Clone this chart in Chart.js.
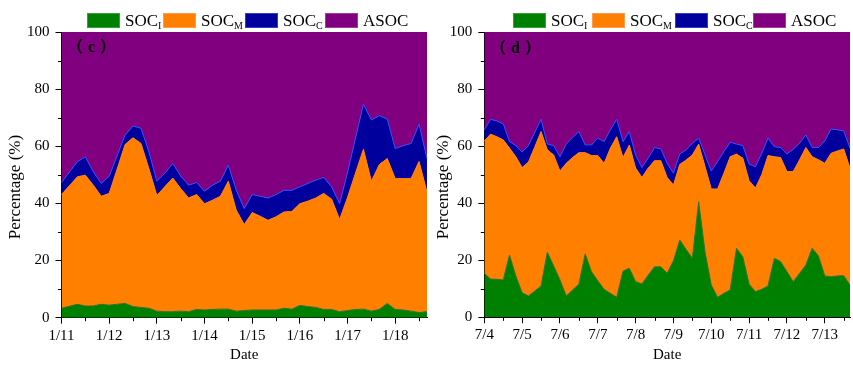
<!DOCTYPE html>
<html><head><meta charset="utf-8">
<script src="https://cdn.jsdelivr.net/npm/chart.js@4.4.1/dist/chart.umd.min.js"></script>
<style>
html,body{margin:0;padding:0;background:#fff;}
#wrap{position:relative;width:853px;height:365px;overflow:hidden;background:#fff;font-family:"Liberation Serif","Times New Roman",serif;color:#000;}
canvas{position:absolute;top:0;}
.box{position:absolute;top:12.5px;width:33px;height:15px;box-sizing:border-box;border:1px solid;}
.txt{position:absolute;top:12px;font-size:17px;line-height:17px;white-space:nowrap;}
.txt sub{font-size:10px;vertical-align:-3px;line-height:0;}
.tag{position:absolute;font-weight:bold;font-size:16px;line-height:16px;letter-spacing:5px;font-family:"Liberation Serif","Noto Sans CJK SC",serif;white-space:nowrap;}
.ytitle{position:absolute;width:200px;height:20px;line-height:20px;text-align:center;font-size:17px;white-space:nowrap;transform:rotate(-90deg);transform-origin:50% 50%;}
</style></head>
<body>
<div id="wrap">
  <canvas id="cC" width="430" height="365" style="left:0"></canvas>
  <canvas id="cD" width="423" height="365" style="left:430px"></canvas>
  <div class="tag" style="left:67px;top:39px">（c）</div>
  <div class="tag" style="left:490px;top:40px">（d）</div>
  <div class="ytitle" style="left:-85px;top:177px">Percentage (%)</div>
  <div class="ytitle" style="left:343px;top:177px">Percentage (%)</div>
  <div id="legC"></div>
  <div id="legD"></div>
</div>
<script>
// ---- data: panel (c), 4-hourly samples starting 1/11 ----
const dayTicksC = ['1/11','1/12','1/13','1/14','1/15','1/16','1/17','1/18'];
const socI_c = [3.3,4.0,4.7,4.1,4.1,4.7,4.4,4.7,5.0,3.9,3.6,3.3,2.3,2.1,2.1,2.3,2.1,2.9,2.7,2.9,3.0,3.0,2.3,2.5,2.7,2.7,2.7,2.7,3.3,3.0,4.3,3.9,3.6,2.9,2.9,2.1,2.5,2.9,3.0,2.3,2.9,5.0,2.9,2.7,2.3,1.8,2.1];
const socM_c = [39.8,42.2,44.6,45.8,42.3,37.8,39.1,47.3,55.6,59.1,57.4,48.9,40.5,43.7,46.8,42.9,39.8,40.2,37.2,38.2,39.5,44.8,35.3,30.1,34.1,32.8,31.4,32.6,33.7,34.2,35.6,36.9,38.3,40.6,38.6,32.3,39.6,47.7,56.0,45.5,50.7,50.7,45.8,46.0,46.4,52.9,41.9];
const socC_c = [4.2,4.8,5.3,6.4,4.7,4.5,6.0,4.7,3.3,4.1,5.3,5.9,5.0,4.7,5.1,4.4,4.5,4.2,4.4,5.3,5.3,5.6,7.0,5.6,6.3,7.0,7.8,7.8,7.6,7.4,5.9,6.2,6.2,5.6,4.3,5.5,8.7,12.2,15.7,21.4,17.1,13.8,10.5,11.5,12.3,13.0,11.7];
const asoc_c = [52.7,49.0,45.4,43.7,48.9,53.0,50.5,43.3,36.1,32.9,33.7,41.9,52.2,49.5,46.0,50.4,53.6,52.7,55.7,53.6,52.2,46.6,55.4,61.8,56.9,57.5,58.1,56.9,55.4,55.4,54.2,53.0,51.9,50.9,54.2,60.1,49.2,37.2,25.3,30.8,29.3,30.5,40.8,39.8,39.0,32.3,44.3];

// ---- data: panel (d), 4-hourly samples starting 7/4 ----
const dayTicksD = ['7/4','7/5','7/6','7/7','7/8','7/9','7/10','7/11','7/12','7/13'];
const socI_d = [15.4,13.4,13.3,13.1,21.8,14.5,8.6,7.5,9.2,11.0,22.8,18.0,13.1,7.5,9.6,11.6,22.2,16.0,12.8,9.8,8.4,7.0,16.2,17.2,12.5,11.7,14.8,17.7,17.7,15.4,19.8,27.1,23.8,20.7,40.5,23.0,11.3,7.0,8.4,9.6,24.2,21.2,11.6,9.0,9.8,11.0,20.7,19.5,16.0,12.5,15.4,18.3,24.2,21.5,14.5,14.2,14.5,14.6,11.3];
const socM_d = [46.4,50.8,50.0,49.1,37.5,41.8,43.9,46.9,50.5,54.1,35.9,38.9,38.2,46.5,46.4,46.1,35.5,40.7,43.9,44.2,50.9,56.3,39.8,43.2,39.8,37.3,37.5,37.2,37.2,33.6,26.6,26.5,31.3,36.2,20.2,29.9,33.7,38.0,42.1,46.7,33.0,34.6,36.3,36.3,40.2,45.7,35.6,36.5,35.1,38.6,39.8,41.2,32.1,33.7,39.5,43.3,43.8,44.4,41.0];
const socC_d = [3.9,5.2,5.5,5.6,2.3,3.9,5.4,5.8,5.1,4.3,2.0,3.3,5.0,6.7,7.0,7.4,2.7,3.7,6.1,7.6,6.4,6.1,5.6,4.7,4.6,3.5,3.5,4.6,4.1,5.0,4.1,3.6,3.6,4.1,2.1,4.1,6.3,9.6,7.6,5.1,3.5,4.4,5.8,7.5,7.5,6.1,3.5,3.5,6.1,7.8,5.8,4.4,3.2,4.3,7.8,8.5,7.4,6.3,7.0];
const asoc_d = [34.3,30.6,31.2,32.2,38.4,39.8,42.1,39.8,35.2,30.6,39.3,39.8,43.7,39.3,37.0,34.9,39.6,39.6,37.2,38.4,34.3,30.6,38.4,34.9,43.1,47.5,44.2,40.5,41.0,46.0,49.5,42.8,41.3,39.0,37.2,43.0,48.7,45.4,41.9,38.6,39.3,39.8,46.3,47.2,42.5,37.2,40.2,40.5,42.8,41.1,39.0,36.1,40.5,40.5,38.2,34.0,34.3,34.7,40.7];

const yTicks = [0,20,40,60,80,100];
const yMinor = [10,30,50,70,90];
const SAMPLES_PER_DAY = 6;

const seriesNames = ['SOC<sub>I</sub>','SOC<sub>M</sub>','SOC<sub>C</sub>','ASOC'];
const seriesLabels = ['SOCI','SOCM','SOCC','ASOC'];
const fills = ['#008000','#ff8000','#00009c','#800080'];
const lines = ['#2f6f2f','#ff7a10','#2a4cff','#800080'];
const boxBorders = ['#3aa03a','#ff9a50','#3a3ad0','#9a409a'];

const FONT = '"Liberation Serif","Times New Roman",serif';

const minorTicks = {
  id:'minorTicks',
  afterDraw(chart){
    const ctx = chart.ctx, xs = chart.scales.x, ys = chart.scales.y;
    ctx.save();
    ctx.strokeStyle = '#000'; ctx.lineWidth = 1;
    ctx.beginPath();
    const n = chart.data.labels.length;
    for (let i = SAMPLES_PER_DAY/2; i < n; i += SAMPLES_PER_DAY) {
      const px = Math.round(xs.getPixelForTick(i)) + 0.5;
      ctx.moveTo(px, ys.bottom); ctx.lineTo(px, ys.bottom + 3.5);
    }
    yMinor.forEach(v => {
      const py = Math.round(ys.getPixelForValue(v)) + 0.5;
      ctx.moveTo(xs.left, py); ctx.lineTo(xs.left - 3.5, py);
    });
    ctx.stroke();
    ctx.restore();
  }
};

function makeChart(id, dayTicks, series, cfg){
  const n = series[0].length;
  const labels = [];
  for (let i = 0; i < n; i++) labels.push(i % SAMPLES_PER_DAY === 0 ? (dayTicks[i / SAMPLES_PER_DAY] || '') : '');
  const datasets = series.map((d, k) => ({
    label: seriesLabels[k], data: d,
    backgroundColor: fills[k], borderColor: lines[k], borderWidth: 1,
    fill: k === 0 ? 'origin' : '-1', pointRadius: 0, tension: 0
  }));
  return new Chart(document.getElementById(id), {
    type:'line',
    data:{labels, datasets},
    plugins:[minorTicks],
    options:{
      responsive:false, animation:false, devicePixelRatio:1,
      layout:{padding:{top:cfg.top, right:cfg.right, left:0, bottom:0}},
      plugins:{legend:{display:false}, tooltip:{enabled:false}, filler:{propagate:false}},
      scales:{
        x:{
          type:'category', offset:false,
          grid:{offset:false, drawOnChartArea:false, tickLength:6, tickWidth:1,
                tickColor:(c)=> (c.index % SAMPLES_PER_DAY === 0 ? '#000' : 'rgba(0,0,0,0)')},
          border:{display:true, color:'#000', width:1},
          ticks:{autoSkip:false, maxRotation:0, minRotation:0, padding:3, color:'#000',
                 font:{family:FONT, size:15}, callback:(v,i)=>labels[i]},
          title:{display:true, text:'Date', color:'#000', font:{family:FONT, size:15}, padding:{top:0,bottom:1}},
          afterFit:(s)=>{ s.height = cfg.xh; }
        },
        y:{
          stacked:true, min:0, max:100,
          afterBuildTicks:(s)=>{ s.ticks = yTicks.map(v=>({value:v})); },
          grid:{drawOnChartArea:false, tickLength:6, tickWidth:1, tickColor:'#000'},
          border:{display:true, color:'#000', width:1},
          ticks:{padding:6, color:'#000', font:{family:FONT, size:15}},
          title:{display:false},
          afterFit:(s)=>{ s.width = cfg.yw; }
        }
      }
    }
  });
}

makeChart('cC', dayTicksC, [socI_c, socM_c, socC_c, asoc_c], {top:32, right:3, xh:47.3, yw:61.5});
makeChart('cD', dayTicksD, [socI_d, socM_d, socC_d, asoc_d], {top:32, right:0, xh:47.7, yw:54.3});

function legend(id, boxLefts){
  const el = document.getElementById(id);
  seriesNames.forEach((nm, k) => {
    const b = document.createElement('div');
    b.className = 'box';
    b.style.left = boxLefts[k] + 'px';
    b.style.background = fills[k];
    b.style.borderColor = boxBorders[k];
    el.appendChild(b);
    const t = document.createElement('div');
    t.className = 'txt';
    t.style.left = (boxLefts[k] + 38) + 'px';
    t.innerHTML = nm;
    el.appendChild(t);
  });
}
legend('legC', [87, 163, 245, 325]);
legend('legD', [513, 592, 675, 753]);
</script>
</body></html>
